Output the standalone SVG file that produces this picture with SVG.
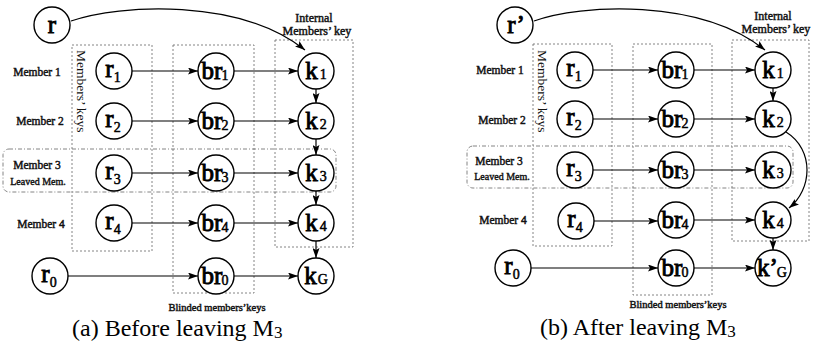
<svg xmlns="http://www.w3.org/2000/svg" width="815" height="342" viewBox="0 0 815 342">
  <defs>
    <marker id="ah" markerUnits="userSpaceOnUse" markerWidth="11" markerHeight="7" refX="10" refY="3.5" orient="auto">
      <path d="M0,0 L10,3.5 L0,7 L2,3.5 z" fill="#000"/>
    </marker>
    <style>
      .box { fill: none; stroke: #777; stroke-width: 0.9; stroke-dasharray: 2 2; }
      .grp { fill: none; stroke: #777; stroke-width: 0.9; stroke-dasharray: 4 2 1 2; }
      .node circle { fill: #fff; stroke: #000; stroke-width: 1.4; }
      /* heavy serif lettering: regular face thickened with a thin outline */
      .node text { font-family: "Liberation Serif", "Times New Roman", serif; font-size: 25px; text-anchor: middle; fill: #000; stroke: #000; stroke-width: 0.9; }
      .node .sub { font-size: 14px; stroke-width: 0.5; }
      .edge { fill: none; stroke: #000; stroke-width: 1.2; marker-end: url(#ah); }
      .mem { font-family: "Liberation Serif", serif; font-size: 11.5px; text-anchor: middle; fill: #111; stroke: #111; stroke-width: 0.45; }
      .small { font-size: 10px; stroke-width: 0.4; }
      .note { font-family: "Liberation Serif", serif; font-size: 12px; text-anchor: middle; fill: #111; stroke: #111; stroke-width: 0.45; }
      .vert { font-family: "Liberation Serif", serif; font-size: 13.5px; fill: #111; }
      .cap { font-family: "Liberation Serif", serif; font-size: 24px; fill: #000; }
      .cap .sub { font-size: 17px; }
    </style>
  </defs>

  <!-- ===== Panel (a): before leaving ===== -->
  <g id="a-boxes">
    <rect class="box" x="72" y="45" width="80" height="206"/>
    <rect class="box" x="173" y="45" width="81" height="248"/>
    <rect class="box" x="275" y="40" width="78" height="207"/>
    <rect class="grp" x="3" y="149" width="333" height="43" rx="6"/>
  </g>

  <g id="a-labels">
    <text class="mem" x="37" y="76">Member 1</text>
    <text class="mem" x="40" y="125">Member 2</text>
    <text class="mem" x="37" y="169">Member 3</text>
    <text class="mem small" x="38" y="185">Leaved Mem.</text>
    <text class="mem" x="41" y="228">Member 4</text>
    <text class="vert" transform="translate(77,50) rotate(90)">Members’ keys</text>
    <text class="note" x="314" y="22">Internal</text>
    <text class="note" x="317" y="35">Members’ key</text>
    <text class="note" x="217" y="311" style="font-size:10.5px">Blinded members’keys</text>
    <text class="cap" x="72" y="336">(a) Before leaving M<tspan class="sub" dy="1.5">3</tspan></text>
  </g>

  <g id="a-edges">
    <path class="edge" d="M71,21 C120,4 240,-2 305,50"/>
    <path class="edge" d="M132,71 H198"/>
    <path class="edge" d="M132,121 H198"/>
    <path class="edge" d="M132,173 H198"/>
    <path class="edge" d="M132,223 H198"/>
    <path class="edge" d="M68,276 H198"/>
    <path class="edge" d="M234,71 H298"/>
    <path class="edge" d="M234,121 H298"/>
    <path class="edge" d="M234,173 H298"/>
    <path class="edge" d="M234,223 H298"/>
    <path class="edge" d="M234,276 H298"/>
    <path class="edge" d="M316,89 V103"/>
    <path class="edge" d="M316,139 V155"/>
    <path class="edge" d="M316,191 V205"/>
    <path class="edge" d="M316,241 V258"/>
  </g>

  <g id="a-r" class="node"><circle cx="52" cy="25" r="18"/><text x="52" y="33">r</text></g>
  <g id="a-r1" class="node"><circle cx="114" cy="71" r="18"/><text x="113" y="77">r<tspan class="sub" dy="5">1</tspan></text></g>
  <g id="a-r2" class="node"><circle cx="114" cy="121" r="18"/><text x="113" y="127">r<tspan class="sub" dy="5">2</tspan></text></g>
  <g id="a-r3" class="node"><circle cx="114" cy="173" r="18"/><text x="113" y="179">r<tspan class="sub" dy="5">3</tspan></text></g>
  <g id="a-r4" class="node"><circle cx="114" cy="223" r="18"/><text x="113" y="229">r<tspan class="sub" dy="5">4</tspan></text></g>
  <g id="a-r0" class="node"><circle cx="50" cy="276" r="18"/><text x="49" y="282">r<tspan class="sub" dy="5">0</tspan></text></g>

  <g id="a-br1" class="node"><circle cx="216" cy="71" r="18"/><text x="215" y="79">br<tspan class="sub" dx="-1" dy="1">1</tspan></text></g>
  <g id="a-br2" class="node"><circle cx="216" cy="121" r="18"/><text x="215" y="129">br<tspan class="sub" dx="-1" dy="1">2</tspan></text></g>
  <g id="a-br3" class="node"><circle cx="216" cy="173" r="18"/><text x="215" y="181">br<tspan class="sub" dx="-1" dy="1">3</tspan></text></g>
  <g id="a-br4" class="node"><circle cx="216" cy="223" r="18"/><text x="215" y="231">br<tspan class="sub" dx="-1" dy="1">4</tspan></text></g>
  <g id="a-br0" class="node"><circle cx="216" cy="276" r="18"/><text x="215" y="284">br<tspan class="sub" dx="-1" dy="1">0</tspan></text></g>

  <g id="a-k1" class="node"><circle cx="316" cy="71" r="18"/><text x="316" y="79">k<tspan class="sub" dx="2">1</tspan></text></g>
  <g id="a-k2" class="node"><circle cx="316" cy="121" r="18"/><text x="316" y="129">k<tspan class="sub" dx="2">2</tspan></text></g>
  <g id="a-k3" class="node"><circle cx="316" cy="173" r="18"/><text x="316" y="181">k<tspan class="sub" dx="2">3</tspan></text></g>
  <g id="a-k4" class="node"><circle cx="316" cy="223" r="18"/><text x="316" y="231">k<tspan class="sub" dx="2">4</tspan></text></g>
  <g id="a-kG" class="node"><circle cx="316" cy="276" r="18"/><text x="316" y="284">k<tspan class="sub" dx="1">G</tspan></text></g>

  <!-- ===== Panel (b): after leaving ===== -->
  <g id="b-boxes">
    <rect class="box" x="533" y="44" width="79" height="202"/>
    <rect class="box" x="633" y="44" width="79" height="251"/>
    <rect class="box" x="732" y="40" width="77" height="201"/>
    <rect class="grp" x="467" y="146" width="326" height="42" rx="6"/>
  </g>

  <g id="b-labels">
    <text class="mem" x="500" y="74">Member 1</text>
    <text class="mem" x="502" y="124">Member 2</text>
    <text class="mem" x="499" y="165">Member 3</text>
    <text class="mem small" x="502" y="180">Leaved Mem.</text>
    <text class="mem" x="503" y="224">Member 4</text>
    <text class="vert" transform="translate(538,50) rotate(90)">Members’ keys</text>
    <text class="note" x="773" y="20">Internal</text>
    <text class="note" x="776" y="33">Members’ key</text>
    <text class="note" x="678" y="308" style="font-size:10.5px">Blinded members’keys</text>
    <text class="cap" x="540" y="335">(b) After leaving M<tspan class="sub" dy="1.5">3</tspan></text>
  </g>

  <g id="b-edges">
    <path class="edge" d="M534,21 C580,4 700,-2 765,50"/>
    <path class="edge" d="M593,70 H658"/>
    <path class="edge" d="M593,119 H658"/>
    <path class="edge" d="M593,170 H658"/>
    <path class="edge" d="M594,221 H658"/>
    <path class="edge" d="M531,268 H658"/>
    <path class="edge" d="M694,70 H755"/>
    <path class="edge" d="M694,119 H755"/>
    <path class="edge" d="M694,170 H755"/>
    <path class="edge" d="M694,220 H755"/>
    <path class="edge" d="M694,268 H755"/>
    <path class="edge" d="M773,88 V101"/>
    <path class="edge" d="M786,132 C815,150 812,190 789,208"/>
    <path class="edge" d="M773,238 V250"/>
  </g>

  <g id="b-r" class="node"><circle cx="515" cy="25" r="18"/><text x="516" y="33">r’</text></g>
  <g id="b-r1" class="node"><circle cx="575" cy="70" r="18"/><text x="574" y="76">r<tspan class="sub" dy="5">1</tspan></text></g>
  <g id="b-r2" class="node"><circle cx="575" cy="119" r="18"/><text x="574" y="125">r<tspan class="sub" dy="5">2</tspan></text></g>
  <g id="b-r3" class="node"><circle cx="575" cy="170" r="18"/><text x="574" y="176">r<tspan class="sub" dy="5">3</tspan></text></g>
  <g id="b-r4" class="node"><circle cx="576" cy="221" r="18"/><text x="575" y="227">r<tspan class="sub" dy="5">4</tspan></text></g>
  <g id="b-r0" class="node"><circle cx="513" cy="268" r="18"/><text x="512" y="274">r<tspan class="sub" dy="5">0</tspan></text></g>

  <g id="b-br1" class="node"><circle cx="676" cy="70" r="18"/><text x="675" y="78">br<tspan class="sub" dx="-1" dy="1">1</tspan></text></g>
  <g id="b-br2" class="node"><circle cx="676" cy="119" r="18"/><text x="675" y="127">br<tspan class="sub" dx="-1" dy="1">2</tspan></text></g>
  <g id="b-br3" class="node"><circle cx="676" cy="170" r="18"/><text x="675" y="178">br<tspan class="sub" dx="-1" dy="1">3</tspan></text></g>
  <g id="b-br4" class="node"><circle cx="676" cy="220" r="18"/><text x="675" y="228">br<tspan class="sub" dx="-1" dy="1">4</tspan></text></g>
  <g id="b-br0" class="node"><circle cx="676" cy="268" r="18"/><text x="675" y="276">br<tspan class="sub" dx="-1" dy="1">0</tspan></text></g>

  <g id="b-k1" class="node"><circle cx="773" cy="70" r="18"/><text x="773" y="78">k<tspan class="sub" dx="2">1</tspan></text></g>
  <g id="b-k2" class="node"><circle cx="773" cy="119" r="18"/><text x="773" y="127">k<tspan class="sub" dx="2">2</tspan></text></g>
  <g id="b-k3" class="node"><circle cx="773" cy="170" r="18"/><text x="773" y="178">k<tspan class="sub" dx="2">3</tspan></text></g>
  <g id="b-k4" class="node"><circle cx="773" cy="220" r="18"/><text x="773" y="228">k<tspan class="sub" dx="2">4</tspan></text></g>
  <g id="b-kG" class="node"><circle cx="773" cy="268" r="18"/><text x="772" y="276">k’<tspan class="sub" dx="-1" dy="1">G</tspan></text></g>
</svg>
